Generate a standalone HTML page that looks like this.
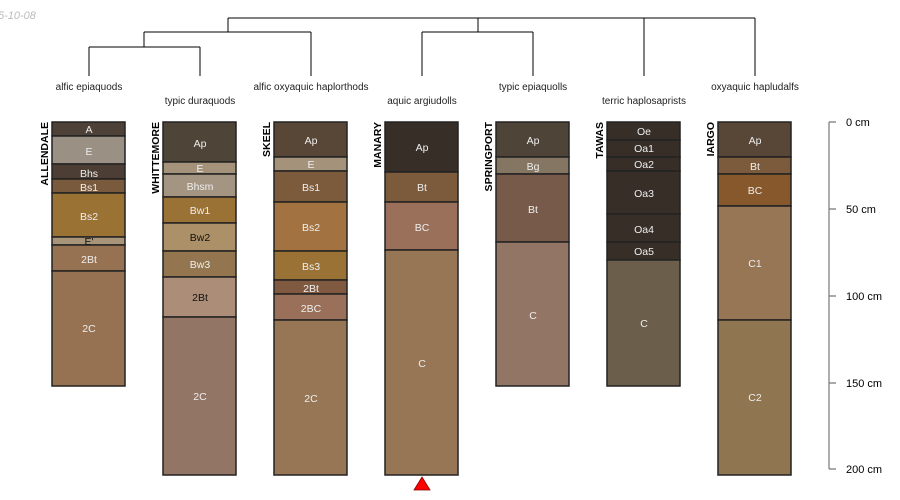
<!DOCTYPE html>
<html><head><meta charset="utf-8"><style>
body{margin:0;background:#fff;}
svg{display:block;font-family:"Liberation Sans",sans-serif;}
.h{font-size:10.5px;fill:#eee;text-anchor:middle;}
.d{fill:#111;}
.n{font-size:10.5px;font-weight:bold;fill:#000;text-anchor:end;}
.t{font-size:10px;fill:#222;text-anchor:middle;}
rect{stroke:#222;stroke-width:1.5;}
</style></head><body>
<svg width="900" height="500" viewBox="0 0 900 500">
<text x="-2" y="19" font-size="11" fill="#bbb" font-style="italic">5-10-08</text>
<g stroke="#000" fill="none" stroke-width="1">
<path d="M228 18H755M228 18V32M478 18V32M644 18V76M755 18V76"/>
<path d="M144 32H311M144 32V47M311 32V76M422 32H533M422 32V76M533 32V76"/>
<path d="M89 47H200M89 47V76M200 47V76"/>
</g>
<text class="t" x="89" y="90">alfic epiaquods</text>
<text class="t" x="200" y="104">typic duraquods</text>
<text class="t" x="311" y="90">alfic oxyaquic haplorthods</text>
<text class="t" x="422" y="104">aquic argiudolls</text>
<text class="t" x="533" y="90">typic epiaquolls</text>
<text class="t" x="644" y="104">terric haplosaprists</text>
<text class="t" x="755" y="90">oxyaquic hapludalfs</text>

<g>
<rect x="52" y="122" width="73" height="14" fill="#4e4238"/>
<rect x="52" y="136" width="73" height="28" fill="#9a9084"/>
<rect x="52" y="164" width="73" height="15" fill="#4c3e34"/>
<rect x="52" y="179" width="73" height="14" fill="#7a5a3c"/>
<rect x="52" y="193" width="73" height="44" fill="#9a7234"/>
<rect x="52" y="237" width="73" height="8" fill="#a89478"/>
<rect x="52" y="245" width="73" height="26" fill="#977252"/>
<rect x="52" y="271" width="73" height="115" fill="#977252"/>
<text class="h" x="89" y="133">A</text><text class="h" x="89" y="155">E</text>
<text class="h" x="89" y="177">Bhs</text><text class="h" x="89" y="191">Bs1</text>
<text class="h" x="89" y="220">Bs2</text><text class="h d" x="89" y="245">E'</text>
<text class="h" x="89" y="263">2Bt</text><text class="h" x="89" y="332">2C</text>
<text class="n" transform="translate(48,122) rotate(-90)">ALLENDALE</text>
</g>
<g>
<rect x="163" y="122" width="73" height="40" fill="#4e4438"/>
<rect x="163" y="162" width="73" height="12" fill="#a4927a"/>
<rect x="163" y="174" width="73" height="23" fill="#a49482"/>
<rect x="163" y="197" width="73" height="26" fill="#9a7236"/>
<rect x="163" y="223" width="73" height="28" fill="#ac9068"/>
<rect x="163" y="251" width="73" height="26" fill="#937650"/>
<rect x="163" y="277" width="73" height="40" fill="#ac8e78"/>
<rect x="163" y="317" width="73" height="158" fill="#937565"/>
<text class="h" x="200" y="147">Ap</text><text class="h" x="200" y="172">E</text>
<text class="h" x="200" y="190" font-size="9" fill="#ddd">Bhsm</text><text class="h" x="200" y="214">Bw1</text>
<text class="h d" x="200" y="241">Bw2</text><text class="h" x="200" y="268">Bw3</text>
<text class="h d" x="200" y="301">2Bt</text><text class="h" x="200" y="400">2C</text>
<text class="n" transform="translate(159,122) rotate(-90)">WHITTEMORE</text>
</g>
<g>
<rect x="274" y="122" width="73" height="35" fill="#584636"/>
<rect x="274" y="157" width="73" height="14" fill="#a4927a"/>
<rect x="274" y="171" width="73" height="31" fill="#7c5a3c"/>
<rect x="274" y="202" width="73" height="49" fill="#a27240"/>
<rect x="274" y="251" width="73" height="29" fill="#9a7236"/>
<rect x="274" y="280" width="73" height="14" fill="#805a40"/>
<rect x="274" y="294" width="73" height="26" fill="#9a705a"/>
<rect x="274" y="320" width="73" height="155" fill="#977655"/>
<text class="h" x="311" y="144">Ap</text><text class="h" x="311" y="168">E</text>
<text class="h" x="311" y="191">Bs1</text><text class="h" x="311" y="231">Bs2</text>
<text class="h" x="311" y="270">Bs3</text><text class="h" x="311" y="292">2Bt</text>
<text class="h" x="311" y="312">2BC</text><text class="h" x="311" y="402">2C</text>
<text class="n" transform="translate(270,122) rotate(-90)">SKEEL</text>
</g>
<g>
<rect x="385" y="122" width="73" height="50" fill="#372e28"/>
<rect x="385" y="172" width="73" height="30" fill="#7c5a3c"/>
<rect x="385" y="202" width="73" height="48" fill="#9a705a"/>
<rect x="385" y="250" width="73" height="225" fill="#977655"/>
<text class="h" x="422" y="151">Ap</text><text class="h" x="422" y="191">Bt</text>
<text class="h" x="422" y="231">BC</text><text class="h" x="422" y="367">C</text>
<text class="n" transform="translate(381,122) rotate(-90)">MANARY</text>
<polygon points="422,477 430,490 414,490" fill="#f00" stroke="#800" stroke-width="0.8"/>
</g>
<g>
<rect x="496" y="122" width="73" height="35" fill="#4e4438"/>
<rect x="496" y="157" width="73" height="17" fill="#847662"/>
<rect x="496" y="174" width="73" height="68" fill="#785a4a"/>
<rect x="496" y="242" width="73" height="144" fill="#937565"/>
<text class="h" x="533" y="144">Ap</text><text class="h" x="533" y="170">Bg</text>
<text class="h" x="533" y="213">Bt</text><text class="h" x="533" y="319">C</text>
<text class="n" transform="translate(492,122) rotate(-90)">SPRINGPORT</text>
</g>
<g>
<rect x="607" y="122" width="73" height="18" fill="#372e28"/>
<rect x="607" y="140" width="73" height="17" fill="#372e28"/>
<rect x="607" y="157" width="73" height="14" fill="#372e28"/>
<rect x="607" y="171" width="73" height="43" fill="#372e28"/>
<rect x="607" y="214" width="73" height="28" fill="#372e28"/>
<rect x="607" y="242" width="73" height="18" fill="#372e28"/>
<rect x="607" y="260" width="73" height="126" fill="#6b5e4a"/>
<text class="h" x="644" y="135">Oe</text><text class="h" x="644" y="152">Oa1</text>
<text class="h" x="644" y="168">Oa2</text><text class="h" x="644" y="197">Oa3</text>
<text class="h" x="644" y="233">Oa4</text><text class="h" x="644" y="255">Oa5</text>
<text class="h" x="644" y="327">C</text>
<text class="n" transform="translate(603,122) rotate(-90)">TAWAS</text>
</g>
<g>
<rect x="718" y="122" width="73" height="35" fill="#584636"/>
<rect x="718" y="157" width="73" height="17" fill="#7c5a3c"/>
<rect x="718" y="174" width="73" height="32" fill="#87582c"/>
<rect x="718" y="206" width="73" height="114" fill="#977655"/>
<rect x="718" y="320" width="73" height="155" fill="#8f7650"/>
<text class="h" x="755" y="144">Ap</text><text class="h" x="755" y="170">Bt</text>
<text class="h" x="755" y="194">BC</text><text class="h" x="755" y="267">C1</text>
<text class="h" x="755" y="401">C2</text>
<text class="n" transform="translate(714,122) rotate(-90)">IARGO</text>
</g>
<g stroke="#777" stroke-width="1.2" fill="none">
<path d="M829 122V469M829 122H836M829 209H836M829 296H836M829 383H836M829 469H836"/>
</g>
<g font-size="11" fill="#000">
<text x="846" y="126">0 cm</text><text x="846" y="213">50 cm</text>
<text x="846" y="300">100 cm</text><text x="846" y="387">150 cm</text>
<text x="846" y="473">200 cm</text>
</g>
</svg>
</body></html>
